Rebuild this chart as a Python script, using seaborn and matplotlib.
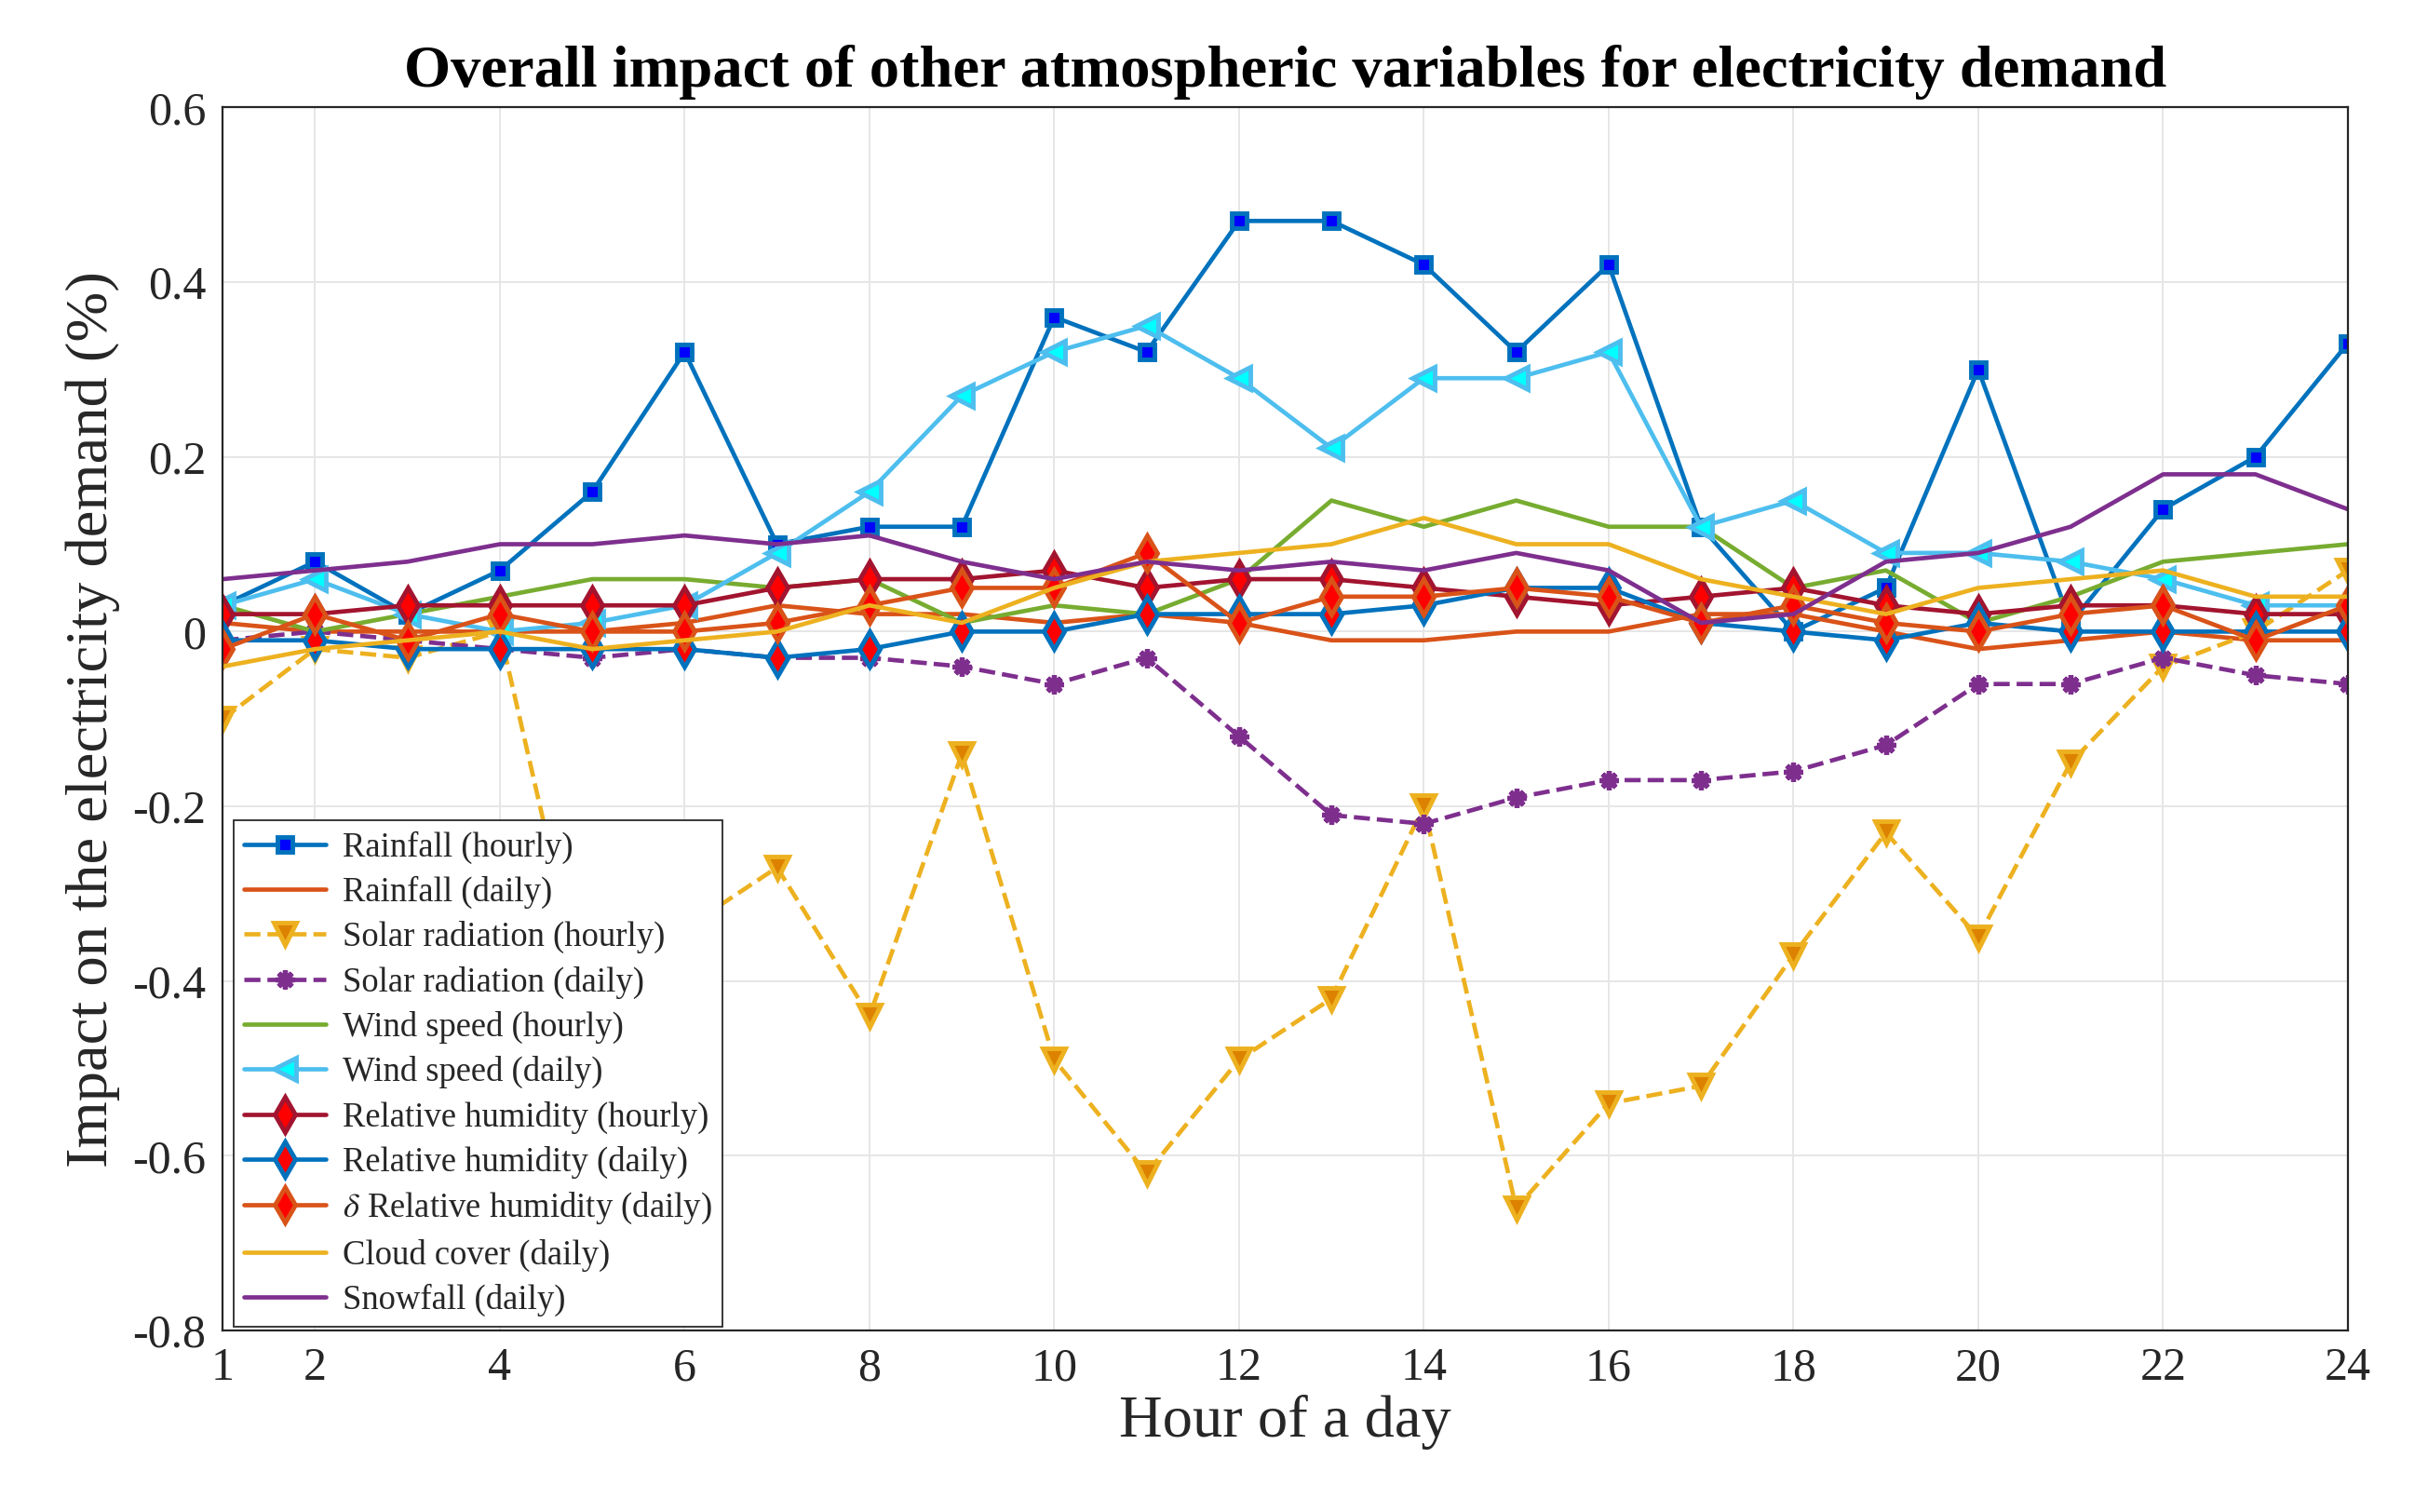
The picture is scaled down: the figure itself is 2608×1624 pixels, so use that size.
import numpy as np
import pandas as pd
import seaborn as sns
import matplotlib
matplotlib.use('Agg')
import matplotlib.pyplot as plt

# impact des variables atmosphériques par heure

hours = list(range(1, 25))

rain_hourly = [0.03, 0.08, 0.02, 0.07, 0.16, 0.32, 0.10, 0.12, 0.12, 0.36, 0.32, 0.47,
               0.47, 0.42, 0.32, 0.42, 0.12, 0.00, 0.05, 0.30, 0.01, 0.14, 0.20, 0.33]
rain_daily = [0.01, 0.00, 0.00, 0.00, 0.00, 0.01, 0.03, 0.02, 0.02, 0.01, 0.02, 0.01,
              -0.01, -0.01, 0.00, 0.00, 0.02, 0.02, 0.00, -0.02, -0.01, 0.00, -0.01, -0.01]
solar_hourly = [-0.10, -0.02, -0.03, 0.00, -0.46, -0.34, -0.27, -0.44, -0.14, -0.49, -0.62, -0.49,
                -0.42, -0.20, -0.66, -0.54, -0.52, -0.37, -0.23, -0.35, -0.15, -0.04, 0.00, 0.07]
solar_daily = [-0.01, 0.00, -0.01, -0.02, -0.03, -0.02, -0.03, -0.03, -0.04, -0.06, -0.03, -0.12,
               -0.21, -0.22, -0.19, -0.17, -0.17, -0.16, -0.13, -0.06, -0.06, -0.03, -0.05, -0.06]
wind_hourly = [0.03, 0.00, 0.02, 0.04, 0.06, 0.06, 0.05, 0.06, 0.01, 0.03, 0.02, 0.06,
               0.15, 0.12, 0.15, 0.12, 0.12, 0.05, 0.07, 0.01, 0.04, 0.08, 0.09, 0.10]
wind_daily = [0.03, 0.06, 0.02, 0.00, 0.01, 0.03, 0.09, 0.16, 0.27, 0.32, 0.35, 0.29,
              0.21, 0.29, 0.29, 0.32, 0.12, 0.15, 0.09, 0.09, 0.08, 0.06, 0.03, 0.03]
rh_hourly = [0.02, 0.02, 0.03, 0.03, 0.03, 0.03, 0.05, 0.06, 0.06, 0.07, 0.05, 0.06,
             0.06, 0.05, 0.04, 0.03, 0.04, 0.05, 0.03, 0.02, 0.03, 0.03, 0.02, 0.02]
rh_daily = [-0.01, -0.01, -0.02, -0.02, -0.02, -0.02, -0.03, -0.02, 0.00, 0.00, 0.02, 0.02,
            0.02, 0.03, 0.05, 0.05, 0.01, 0.00, -0.01, 0.01, 0.00, 0.00, 0.00, 0.00]
d_rh_daily = [-0.02, 0.02, -0.01, 0.02, 0.00, 0.00, 0.01, 0.03, 0.05, 0.05, 0.09, 0.01,
              0.04, 0.04, 0.05, 0.04, 0.01, 0.03, 0.01, 0.00, 0.02, 0.03, -0.01, 0.03]
cloud_daily = [-0.04, -0.02, -0.01, 0.00, -0.02, -0.01, 0.00, 0.03, 0.01, 0.05, 0.08, 0.09,
               0.10, 0.13, 0.10, 0.10, 0.06, 0.04, 0.02, 0.05, 0.06, 0.07, 0.04, 0.04]
snow_daily = [0.06, 0.07, 0.08, 0.10, 0.10, 0.11, 0.10, 0.11, 0.08, 0.06, 0.08, 0.07,
              0.08, 0.07, 0.09, 0.07, 0.01, 0.02, 0.08, 0.09, 0.12, 0.18, 0.18, 0.14]

x_ticks = [1, 2, 4, 6, 8, 10, 12, 14, 16, 18, 20, 22, 24]
y_ticks = [-0.8, -0.6, -0.4, -0.2, 0, 0.2, 0.4, 0.6]
y_labels = ['-0.8', '-0.6', '-0.4', '-0.2', '0', '0.2', '0.4', '0.6']

sns.set_theme(style='whitegrid')
plt.rcParams['font.family'] = ['Liberation Serif', 'DejaVu Serif']
plt.rcParams['mathtext.fontset'] = 'stix'

fig = plt.figure(figsize=(16.3, 10.15), dpi=160)
ax = fig.add_axes([0.0917, 0.12, 0.8753, 0.809])

lw = 2.1
series = [
    ('Rainfall (hourly)', rain_hourly, dict(color='#0072BD', marker='s', ms=7, mfc='#0000FF', mec='#0072BD', mew=2.2)),
    ('Rainfall (daily)', rain_daily, dict(color='#D95319')),
    ('Solar radiation (hourly)', solar_hourly, dict(color='#EDB120', ls='--', marker='v', ms=11, mfc='#DC8200', mec='#EDB120', mew=2.2)),
    ('Solar radiation (daily)', solar_daily, dict(color='#7E2F8E', ls='--', marker=(8, 2, 0), ms=9, mfc='#7E2F8E', mec='#7E2F8E', mew=2.4)),
    ('Wind speed (hourly)', wind_hourly, dict(color='#77AC30')),
    ('Wind speed (daily)', wind_daily, dict(color='#4DBEEE', marker='<', ms=11, mfc='#00FFFF', mec='#4DBEEE', mew=2.2)),
    ('Relative humidity (hourly)', rh_hourly, dict(color='#A2142F', marker='d', ms=12, mfc='#FF0000', mec='#A2142F', mew=2.2)),
    ('Relative humidity (daily)', rh_daily, dict(color='#0072BD', marker='d', ms=12, mfc='#FF0000', mec='#0072BD', mew=2.2)),
    (r'$\delta$ Relative humidity (daily)', d_rh_daily, dict(color='#D95319', marker='d', ms=12, mfc='#FF0000', mec='#D95319', mew=2.2)),
    ('Cloud cover (daily)', cloud_daily, dict(color='#EDB120')),
    ('Snowfall (daily)', snow_daily, dict(color='#7E2F8E')),
]

for name, vals, style in series:
    sns.lineplot(x=hours, y=vals, ax=ax, label=name, lw=lw, **style)

ax.set_xlim(1, 24)
ax.set_ylim(-0.8, 0.6)
ax.set_xticks(x_ticks)
ax.set_yticks(y_ticks)
ax.set_yticklabels(y_labels)
ax.tick_params(axis='both', labelsize=22.5, direction='in', length=7, width=1,
               color='#262626', labelcolor='#262626', pad=8)
ax.grid(True, color='#e6e6e6', lw=0.9)
for sp in ax.spines.values():
    sp.set_color('#262626')
    sp.set_linewidth(1)

ax.set_xlabel('Hour of a day', fontsize=29, color='#262626', labelpad=2)
ax.set_ylabel('Impact on the electricity demand (%)', fontsize=29, color='#262626', labelpad=6)
ax.set_title('Overall impact of other atmospheric variables for electricity demand',
             fontsize=29, fontweight='bold', color='black', pad=10)

leg = ax.legend(loc='lower left', bbox_to_anchor=(0.005, 0.003), fontsize=16.5,
                frameon=True, fancybox=False, framealpha=1, edgecolor='#262626',
                handlelength=2.4, labelspacing=0.36, borderpad=0.3, handletextpad=0.5,
                borderaxespad=0.0)
leg.get_frame().set_linewidth(0.8)
leg.set_zorder(10)

fig.savefig('out.png', dpi=160)
